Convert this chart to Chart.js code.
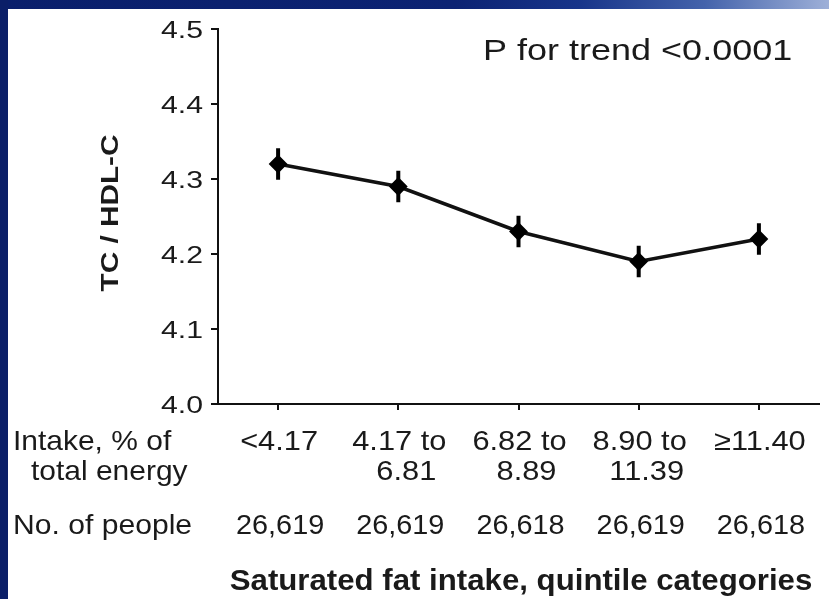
<!DOCTYPE html>
<html>
<head>
<meta charset="utf-8">
<script src="https://cdn.jsdelivr.net/npm/chart.js@4/dist/chart.umd.min.js"></script>
<style>
  html, body { margin: 0; padding: 0; background: #fff; }
  #wrap { position: relative; width: 829px; height: 599px; overflow: hidden; background: #fff; }
  #frameTop {
    position: absolute; left: 0; top: 0; width: 829px; height: 9px;
    background: linear-gradient(to right, #0a1f6b 0%, #0c2373 55%, #18358a 70%, #4463ab 85%, #9eb0d8 100%);
  }
  #frameLeft { position: absolute; left: 0; top: 0; width: 8px; height: 599px; background: #0b1f68; }
  canvas { position: absolute; left: 0; top: 0; }
</style>
</head>
<body>
<div id="wrap">
  <div id="frameTop"></div>
  <div id="frameLeft"></div>
  <canvas id="chart" width="829" height="599"></canvas>
</div>
<script>
// Saturated fat intake quintiles (% of total energy), one entry per category, split into text lines
const intakeRanges = [
  ['<4.17'],
  ['4.17 to', '6.81'],
  ['6.82 to', '8.89'],
  ['8.90 to', '11.39'],
  ['\u226511.40']
];
// Number of people in each quintile
const peopleCounts = ['26,619', '26,619', '26,618', '26,619', '26,618'];
// Mean TC / HDL-C ratio and its error half-width per quintile
const tcHdlRatio = [4.32, 4.29, 4.23, 4.19, 4.22];
const tcHdlError = [0.021, 0.021, 0.021, 0.021, 0.021];
// Y axis ticks
const yTicks = [4.0, 4.1, 4.2, 4.3, 4.4, 4.5];

const FONT = '"Liberation Sans", Arial, Helvetica, sans-serif';
const INK = '#1a1a1a';

function drawText(ctx, str, x, y, o) {
  ctx.save();
  ctx.font = (o.bold ? 'bold ' : '') + o.size + 'px ' + FONT;
  ctx.fillStyle = o.color || INK;
  ctx.textBaseline = 'alphabetic';
  ctx.textAlign = o.align || 'left';
  ctx.translate(x, y);
  if (o.rotate) ctx.rotate(o.rotate);
  ctx.scale(o.sx || 1, 1);
  ctx.fillText(str, 0, 0);
  ctx.restore();
}

// Vertical error bars, drawn from the y scale
const errorBars = {
  id: 'errorBars',
  beforeDatasetsDraw(chart) {
    const ctx = chart.ctx;
    const xs = chart.scales.x, ys = chart.scales.y;
    ctx.save();
    ctx.strokeStyle = '#000';
    ctx.lineWidth = 4;
    ctx.lineCap = 'butt';
    tcHdlRatio.forEach((v, i) => {
      const x = xs.getPixelForValue(i);
      ctx.beginPath();
      ctx.moveTo(x, ys.getPixelForValue(v + tcHdlError[i]));
      ctx.lineTo(x, ys.getPixelForValue(v - tcHdlError[i]));
      ctx.stroke();
    });
    ctx.restore();
  }
};

// Tick labels, row labels, annotation and axis titles
const annotations = {
  id: 'annotations',
  afterDraw(chart) {
    const ctx = chart.ctx;
    const xs = chart.scales.x, ys = chart.scales.y;

    ys.ticks.forEach(t => {
      drawText(ctx, t.value.toFixed(1), 203, ys.getPixelForValue(t.value) + 9, { size: 24, sx: 1.26, align: 'right' });
    });

    drawText(ctx, 'TC / HDL-C', 118, 213, { size: 24, bold: true, sx: 1.24, align: 'center', rotate: -Math.PI / 2 });

    drawText(ctx, 'P for trend <0.0001', 483, 60, { size: 30, sx: 1.2 });

    drawText(ctx, 'Intake, % of', 13, 450, { size: 28, sx: 1.07 });
    drawText(ctx, 'total energy', 31, 480, { size: 28, sx: 1.07 });
    drawText(ctx, 'No. of people', 13, 534, { size: 28, sx: 1.075 });

    intakeRanges.forEach((lines, i) => {
      const x = xs.getPixelForValue(i);
      drawText(ctx, lines[0], x + 1, 450, { size: 28, sx: 1.1, align: 'center' });
      if (lines[1]) drawText(ctx, lines[1], x + 8, 480, { size: 28, sx: 1.1, align: 'center' });
      drawText(ctx, peopleCounts[i], x + 2, 534, { size: 28, sx: 1.03, align: 'center' });
    });

    drawText(ctx, 'Saturated fat intake, quintile categories', 521, 590, { size: 30, bold: true, sx: 1.04, align: 'center' });
  }
};

new Chart(document.getElementById('chart'), {
  type: 'line',
  data: {
    labels: intakeRanges.map(l => l.join(' ')),
    datasets: [{
      data: tcHdlRatio,
      borderColor: '#111',
      borderWidth: 3.5,
      tension: 0,
      fill: false,
      pointStyle: 'rectRot',
      pointRadius: 8,
      pointBorderWidth: 2,
      pointBackgroundColor: '#000',
      pointBorderColor: '#000'
    }]
  },
  options: {
    responsive: false,
    animation: false,
    devicePixelRatio: 1,
    layout: { padding: { left: 211, right: 9, top: 29, bottom: 189 } },
    plugins: { legend: { display: false }, tooltip: { enabled: false } },
    scales: {
      x: {
        type: 'category',
        offset: true,
        afterFit(s) { s.height = 6; },
        ticks: { display: false },
        grid: { display: true, offset: false, drawOnChartArea: false, drawTicks: true, tickLength: 6, color: '#111', lineWidth: 2 },
        border: { display: true, color: '#111', width: 2 }
      },
      y: {
        min: 4.0,
        max: 4.5,
        afterBuildTicks(s) { s.ticks = yTicks.map(v => ({ value: v })); },
        afterFit(s) { s.width = 7; },
        ticks: { display: false },
        grid: { display: true, drawOnChartArea: false, drawTicks: true, tickLength: 7, color: '#111', lineWidth: 2 },
        border: { display: true, color: '#111', width: 2 }
      }
    }
  },
  plugins: [errorBars, annotations]
});
</script>
</body>
</html>
